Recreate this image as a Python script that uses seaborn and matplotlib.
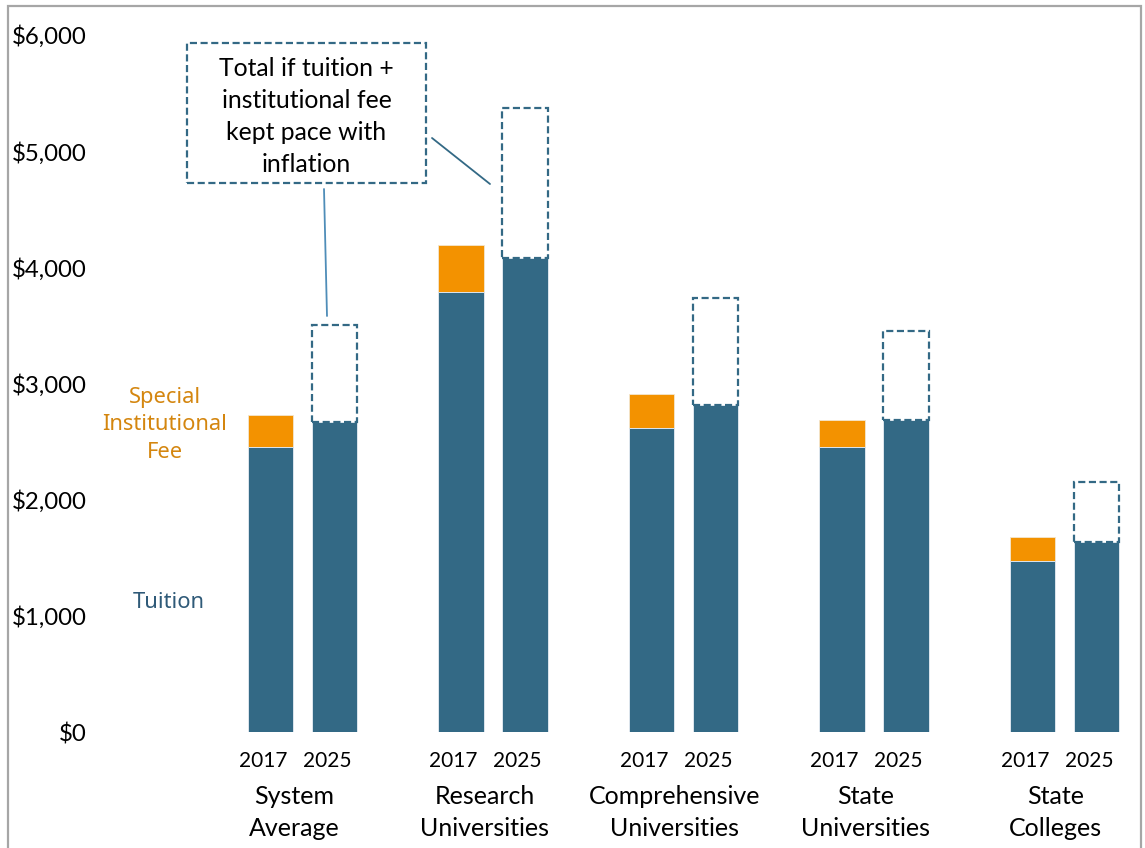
import matplotlib
matplotlib.use("Agg")
import matplotlib.pyplot as plt
import matplotlib.transforms as mtransforms
from matplotlib.patches import Rectangle
from matplotlib.lines import Line2D
import seaborn as sns
import pandas as pd

# ---------------- data ----------------
categories = ["System Average", "Research Universities", "Comprehensive Universities",
              "State Universities", "State Colleges"]
category_labels = [["System", "Average"], ["Research", "Universities"],
                   ["Comprehensive", "Universities"], ["State", "Universities"],
                   ["State", "Colleges"]]
years = ["2017", "2025"]
tuition_2017 = [2455, 3790, 2620, 2450, 1470]
fee_2017 = [275, 400, 290, 240, 210]
tuition_2025 = [2665, 4080, 2815, 2690, 1635]
inflation_total_2025 = [3500, 5370, 3735, 3450, 2150]
y_ticks = [0, 1000, 2000, 3000, 4000, 5000, 6000]
callout_lines = ["Total if tuition +", "institutional fee", "kept pace with", "inflation"]
fee_label_lines = ["Special", "Institutional", "Fee"]
tuition_label = "Tuition"

BLUE = "#336985"
ORANGE = "#F39200"
FEE_TEXT = "#D4860F"
TUI_TEXT = "#2F5A78"

sns.set_theme(style="white")
plt.rcParams["font.family"] = ["Lato", "DejaVu Sans"]

W_PX, H_PX = 1145, 848
fig = plt.figure(figsize=(W_PX / 100, H_PX / 100), dpi=100)


def fx(px):
    return px / W_PX


def fy(py):
    return 1 - py / H_PX


ax_left, ax_right, ax_top, ax_bottom = 95, 1141, 35, 732
ax = fig.add_axes([fx(ax_left), fy(ax_bottom), fx(ax_right - ax_left), (ax_bottom - ax_top) / H_PX])

# top layer: 2017 tuition+fee, 2025 inflation total
top_rows = []
tui_rows = []
for i, c in enumerate(categories):
    top_rows.append({"category": c, "year": "2017", "value": tuition_2017[i] + fee_2017[i]})
    top_rows.append({"category": c, "year": "2025", "value": inflation_total_2025[i]})
    tui_rows.append({"category": c, "year": "2017", "value": tuition_2017[i]})
    tui_rows.append({"category": c, "year": "2025", "value": tuition_2025[i]})
df_top = pd.DataFrame(top_rows)
df_tui = pd.DataFrame(tui_rows)

WIDTH, GAP = 0.672, 0.29
sns.barplot(data=df_top, x="category", y="value", hue="year", order=categories,
            hue_order=years, palette={"2017": ORANGE, "2025": "white"}, saturation=1,
            width=WIDTH, gap=GAP, errorbar=None, legend=False, ax=ax,
            edgecolor="#F3E6D0", linewidth=0.6)
# dashed boxes for 2025: from tuition top to inflation total
for i, p in enumerate(ax.containers[1]):
    p.set_y(tuition_2025[i])
    p.set_height(inflation_total_2025[i] - tuition_2025[i])
    p.set_facecolor("white")
    p.set_edgecolor(BLUE)
    p.set_linestyle((0, (3.2, 1.6)))
    p.set_linewidth(1.6)
    p.set_zorder(3)

sns.barplot(data=df_tui, x="category", y="value", hue="year", order=categories,
            hue_order=years, palette={"2017": BLUE, "2025": BLUE}, saturation=1,
            width=WIDTH, gap=GAP, errorbar=None, legend=False, ax=ax,
            edgecolor="#DDE6EE", linewidth=0.7)

unit_px = 190.5
x0_px = 302.5
ax.set_xlim(-(x0_px - ax_left) / unit_px, (ax_right - x0_px) / unit_px)
ax.set_ylim(0, 6000)
ax.set_xticks([])
ax.set_xlabel("")
ax.set_ylabel("")
ax.set_yticks(y_ticks)
ax.set_yticklabels([f"${v:,.0f}" for v in y_ticks], fontsize=17.3, color="black")
ax.tick_params(axis="y", length=0, pad=6)
sns.despine(ax=ax, left=True, bottom=True)
ax.grid(False)

# x labels
trans = mtransforms.blended_transform_factory(ax.transData, fig.transFigure)
offset = WIDTH / 4
for i in range(len(categories)):
    for j, yr in enumerate(years):
        xc = i + (offset if j else -offset) - 0.04
        ax.text(xc, fy(761), yr, transform=trans, ha="center", va="center",
                fontsize=15, color="black")
    for k, line in enumerate(category_labels[i]):
        ax.text(i - 0.045, fy(796 + 32 * k), line, transform=trans, ha="center",
                va="center", fontsize=18, color="black")

# side labels
for k, line in enumerate(fee_label_lines):
    fig.text(fx(165), fy(397 + 28 * k), line, ha="center", va="center", fontsize=15.8,
             color=FEE_TEXT, family=["Noto Sans", "DejaVu Sans"])
fig.text(fx(169), fy(603), tuition_label, ha="center", va="center", fontsize=15.8,
         color=TUI_TEXT, family=["Noto Sans", "DejaVu Sans"])

# callout box
fig.patches.append(Rectangle((fx(187), fy(183)), fx(426 - 187), (183 - 42.5) / H_PX,
                             transform=fig.transFigure, fill=False, edgecolor=BLUE,
                             linestyle=(0, (3.2, 1.6)), linewidth=1.6))
for k, line in enumerate(callout_lines):
    fig.text(fx(306.5), fy(68 + 32.3 * k), line, ha="center", va="center", fontsize=17.8,
             color="black")
fig.lines.append(Line2D([fx(324), fx(327)], [fy(189), fy(316)], transform=fig.transFigure,
                        color="#4F8DB8", linewidth=1.3))
fig.lines.append(Line2D([fx(432), fx(490)], [fy(138), fy(184)], transform=fig.transFigure,
                        color=BLUE, linewidth=1.3))

# outer border
fig.patches.append(Rectangle((fx(8), fy(870)), fx(1141 - 8), (870 - 6) / H_PX,
                             transform=fig.transFigure, fill=False, edgecolor="#A6A6A6",
                             linewidth=1.6, clip_on=False))

fig.savefig("out.png", dpi=100)
